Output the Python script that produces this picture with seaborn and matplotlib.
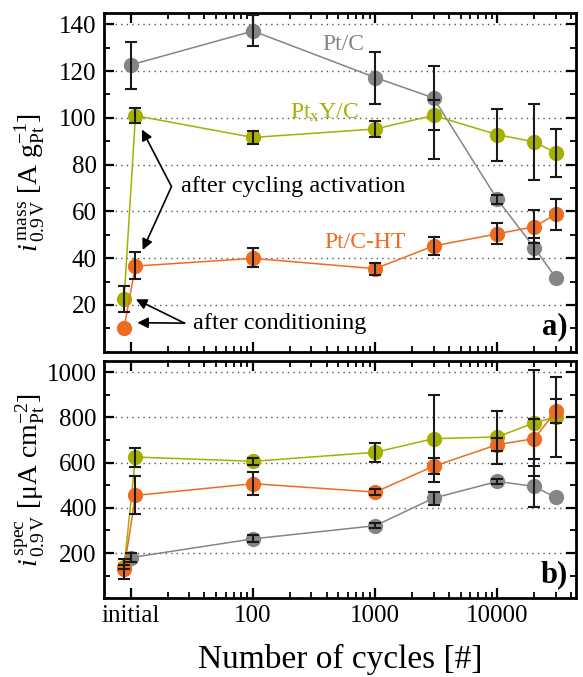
import numpy as np
import pandas as pd
import matplotlib
matplotlib.use("Agg")
import matplotlib.pyplot as plt
from matplotlib.ticker import FixedLocator, MultipleLocator, NullFormatter
import seaborn as sns

# ---------------- data ----------------
series_names = ["Pt/C", "PtxY/C", "Pt/C-HT"]
colors = {"Pt/C": "#858585", "PtxY/C": "#a6b000", "Pt/C-HT": "#ee6c22"}

# cycle positions ("initial" = 10 on log axis; conditioning slightly left, activation slightly right)
x_ptc = [10, 100, 1000, 3000, 10000, 20000, 30000]
x_ptyc = [8.8, 10.9, 100, 1000, 3000, 10000, 20000, 30000]
x_ptcht = [8.8, 10.9, 100, 1000, 3000, 10000, 20000, 30000]

# mass activity [A g_Pt^-1] with lower / upper error bounds
mass_ptc = [122.6, 137.1, 117.2, 108.5, 65.1, 44.5, 31.7]
mass_ptc_lo = [112.3, 130.7, 106.0, 82.2, 63.0, 39.8, 31.7]
mass_ptc_hi = [132.6, 144.0, 128.3, 122.0, 67.2, 48.8, 31.7]

mass_ptyc = [22.4, 100.9, 91.6, 95.2, 101.0, 92.8, 89.7, 85.0]
mass_ptyc_lo = [16.8, 97.8, 89.0, 91.6, 94.6, 81.4, 73.3, 74.5]
mass_ptyc_hi = [28.1, 104.2, 94.2, 98.8, 107.4, 103.9, 105.9, 95.4]

mass_ptcht = [10.3, 36.6, 39.9, 35.5, 45.2, 50.4, 53.4, 58.7]
mass_ptcht_lo = [10.3, 31.0, 36.0, 33.0, 41.2, 46.0, 46.4, 51.9]
mass_ptcht_hi = [10.3, 42.6, 44.5, 38.0, 49.2, 55.1, 60.5, 65.1]

# specific activity [uA cm_Pt^-2]
spec_ptc = [180, 263, 321, 443, 517, 495, 446]
spec_ptc_lo = [160, 248, 309, 414, 505, 406, 446]
spec_ptc_hi = [200, 278, 333, 471, 529, 584, 446]

spec_ptyc = [138, 625, 606, 646, 706, 714, 776, 802]
spec_ptyc_lo = [128, 583, 591, 603, 514, 596, 540, 626]
spec_ptyc_hi = [148, 664, 621, 687, 898, 830, 1012, 980]

spec_ptcht = [130, 455, 507, 470, 584, 680, 706, 827]
spec_ptcht_lo = [85, 373, 458, 458, 551, 651, 618, 776]
spec_ptcht_hi = [175, 539, 557, 482, 621, 709, 795, 882]

x_major = [10, 100, 1000, 10000]
x_major_labels = ["initial", "100", "1000", "10000"]
mass_ticks = [20, 40, 60, 80, 100, 120, 140]
spec_ticks = [200, 400, 600, 800, 1000]

# ---------------- style ----------------
sns.set_style("ticks")
plt.rcParams["font.family"] = ["Liberation Serif", "DejaVu Serif"]
plt.rcParams["mathtext.fontset"] = "custom"
plt.rcParams["mathtext.rm"] = "Liberation Serif"
plt.rcParams["mathtext.it"] = "Liberation Serif:italic"
plt.rcParams["mathtext.bf"] = "Liberation Serif:bold"
plt.rcParams["text.color"] = "black"
plt.rcParams["axes.labelcolor"] = "black"
plt.rcParams["xtick.color"] = "black"
plt.rcParams["ytick.color"] = "black"

fig = plt.figure(figsize=(5.83, 6.77), dpi=100)
fig.patch.set_facecolor("white")
ax1 = fig.add_axes([0.178, 0.4805, 0.810, 0.501])
ax2 = fig.add_axes([0.178, 0.1163, 0.810, 0.3505])

def build(xs, ys):
    frames = []
    for name, x, y in zip(series_names, xs, ys):
        frames.append(pd.DataFrame({"cycles": x, "value": y, "catalyst": name}))
    return pd.concat(frames, ignore_index=True)

df_mass = build([x_ptc, x_ptyc, x_ptcht], [mass_ptc, mass_ptyc, mass_ptcht])
df_spec = build([x_ptc, x_ptyc, x_ptcht], [spec_ptc, spec_ptyc, spec_ptcht])

err_mass = [(x_ptc, mass_ptc, mass_ptc_lo, mass_ptc_hi),
            (x_ptyc, mass_ptyc, mass_ptyc_lo, mass_ptyc_hi),
            (x_ptcht, mass_ptcht, mass_ptcht_lo, mass_ptcht_hi)]
err_spec = [(x_ptc, spec_ptc, spec_ptc_lo, spec_ptc_hi),
            (x_ptyc, spec_ptyc, spec_ptyc_lo, spec_ptyc_hi),
            (x_ptcht, spec_ptcht, spec_ptcht_lo, spec_ptcht_hi)]

for ax, df, errs in [(ax1, df_mass, err_mass), (ax2, df_spec, err_spec)]:
    ax.set_xscale("log")
    sns.lineplot(data=df, x="cycles", y="value", hue="catalyst",
                 hue_order=series_names, palette=colors, marker="o",
                 markersize=11, markeredgewidth=0, linewidth=1.1,
                 estimator=None, sort=True, legend=False, ax=ax, zorder=3)
    for x, y, lo, hi in errs:
        y = np.array(y, float)
        lo = np.array(lo, float)
        hi = np.array(hi, float)
        keep = (hi - lo) > 0
        yerr = [(y - lo)[keep], (hi - y)[keep]]
        ax.errorbar(np.array(x, float)[keep], y[keep], yerr=yerr, fmt="none",
                    ecolor="#1a1a1a", elinewidth=1.5, capsize=4.5,
                    capthick=1.5, zorder=5)
    ax.set_xlim(6, 44000)
    ax.xaxis.set_major_locator(FixedLocator(x_major))
    minors = [k * 10 ** d for d in range(1, 5) for k in range(2, 10)]
    ax.xaxis.set_minor_locator(FixedLocator(minors))
    ax.xaxis.set_minor_formatter(NullFormatter())
    ax.tick_params(which="both", direction="in", top=True, right=True,
                   labelsize=18, pad=5)
    ax.tick_params(which="major", length=7, width=1.6)
    ax.tick_params(which="minor", length=4, width=1.3)
    for sp in ax.spines.values():
        sp.set_linewidth(2)
        sp.set_color("black")
    ax.grid(axis="y", which="major", linestyle=(0, (1, 3)), color="#555555",
            linewidth=1.0)
    ax.set_axisbelow(True)

ax1.set_xticklabels([])
ax2.set_xticklabels(x_major_labels)

ax1.set_ylim(0, 145)
ax1.set_yticks(mass_ticks)
ax1.yaxis.set_minor_locator(MultipleLocator(10))
ax2.set_ylim(0, 1050)
ax2.set_yticks(spec_ticks)
ax2.yaxis.set_minor_locator(MultipleLocator(100))

ax1.set_xlabel("")
ax2.set_xlabel("Number of cycles [#]", fontsize=24, labelpad=12)
ax1.set_ylabel(r"$\mathit{i}_{\,0.9\,\mathrm{V}}^{\,\mathrm{mass}}$ [A g$_{\mathrm{Pt}}^{-1}$]",
               fontsize=20, labelpad=4)
ax2.set_ylabel(r"$\mathit{i}_{\,0.9\,\mathrm{V}}^{\,\mathrm{spec}}$ [$\mathrm{\mu}$A cm$_{\mathrm{Pt}}^{-2}$]",
               fontsize=20, labelpad=4)
ax1.yaxis.set_label_coords(-0.12, 0.5)
ax2.yaxis.set_label_coords(-0.12, 0.5)

# series labels
ax1.text(0.508, 0.905, "Pt/C", transform=ax1.transAxes, color=colors["Pt/C"],
         fontsize=17, ha="center", va="center")
ax1.text(0.468, 0.705, r"Pt$_{\mathrm{x}}$Y/C", transform=ax1.transAxes,
         color=colors["PtxY/C"], fontsize=17, ha="center", va="center")
ax1.text(0.553, 0.323, "Pt/C-HT", transform=ax1.transAxes,
         color=colors["Pt/C-HT"], fontsize=17, ha="center", va="center")

# annotations
arrow = dict(arrowstyle="-|>", color="black", lw=1.2, mutation_scale=16,
             shrinkA=0, shrinkB=0)
ax1.text(0.163, 0.486, "after cycling activation", transform=ax1.transAxes,
         fontsize=17.5, ha="left", va="center")
ax1.annotate("", xy=(12.3, 95.0), xytext=(21.5, 70.6), arrowprops=arrow)
ax1.annotate("", xy=(12.5, 43.5), xytext=(21.5, 70.6), arrowprops=arrow)
ax1.text(0.188, 0.082, "after conditioning", transform=ax1.transAxes,
         fontsize=17.5, ha="left", va="center")
ax1.annotate("", xy=(11.0, 22.4), xytext=(27.5, 12.2), arrowprops=arrow)
ax1.annotate("", xy=(11.3, 12.4), xytext=(27.5, 12.2), arrowprops=arrow)

ax1.text(0.982, 0.075, "a)", transform=ax1.transAxes, fontsize=22,
         fontweight="bold", ha="right", va="center")
ax2.text(0.982, 0.098, "b)", transform=ax2.transAxes, fontsize=22,
         fontweight="bold", ha="right", va="center")

fig.savefig("out.png", dpi=100, facecolor="white")
